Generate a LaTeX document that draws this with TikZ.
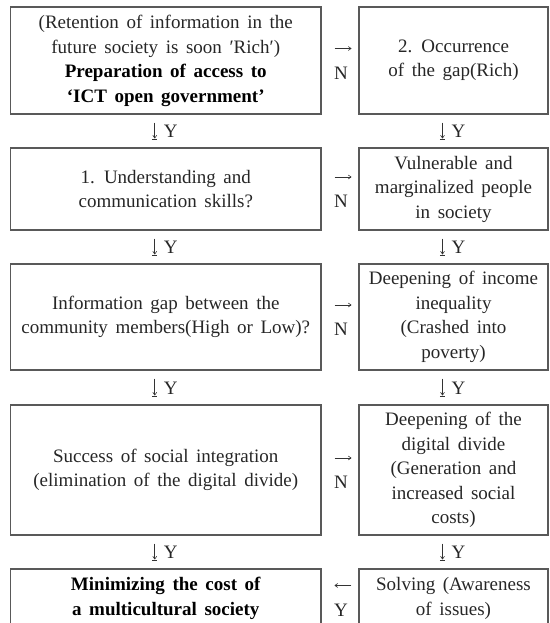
\documentclass[tikz,border=0pt]{standalone}
\usepackage{fontspec}
\setmainfont[WordSpace=1.6]{Liberation Serif}
\usetikzlibrary{arrows.meta,calc}
\begin{document}
\begin{tikzpicture}[x=1pt,y=-1pt,
  txt/.style={inner sep=0pt,align=center,text=black!85,font=\fontsize{19}{24.5}\selectfont},
  box/.style={txt,draw=black!65,line width=1.1pt,rectangle},
  lbox/.style={box,minimum width=310.5pt},
  rbox/.style={box,minimum width=189pt},
  arr/.style={-{To[length=3.5pt,width=4.5pt]},line width=0.6pt,draw=black!80},
  barline/.style={line width=0.6pt,draw=black!80},
]
\useasboundingbox (0,0) rectangle (549,623);
\clip (0,0) rectangle (549,623);

% row 1
\node[lbox,minimum height=107pt,text depth=3pt] (L1) at (165.75,60.5)
 {(Retention of information in the\\ future society is soon ′Rich′)\\
  \textcolor{black}{\bfseries Preparation of access to}\\
  \textcolor{black}{\bfseries ‘ICT open government’}};
\node[rbox,minimum height=107pt] (R1) at (453.5,60.5)
 {2. Occurrence\\ of the gap(Rich)};
% row 2
\node[lbox,minimum height=82pt] (L2) at (165.75,189)
 {1. Understanding and\\ communication skills?};
\node[rbox,minimum height=82pt] (R2) at (453.5,189)
 {Vulnerable and\\ marginalized people\\ in society};
% row 3
\node[lbox,minimum height=106pt] (L3) at (165.75,317)
 {Information gap between the\\ community members(High or Low)?};
\node[rbox,minimum height=106pt] (R3) at (453.5,317)
 {Deepening of income\\ inequality\\ (Crashed into\\ poverty)};
% row 4
\node[lbox,minimum height=130pt] (L4) at (165.75,470)
 {Success of social integration\\ (elimination of the digital divide)};
\node[rbox,minimum height=130pt] (R4) at (453.5,470)
 {Deepening of the\\ digital divide\\ (Generation and\\ increased social\\ costs)};
% row 5 (cut off at the bottom)
\node[lbox,minimum height=81pt] (L5box) at (165.75,609.5) {};
\node[rbox,minimum height=81pt] (R5box) at (453.5,609.5) {};
\node[txt,text=black] (L5) at (165.75,598.5)
 {\bfseries Minimizing the cost of\\ \bfseries a multicultural society};
\node[txt] (R5) at (453.5,598.5) {Solving (Awareness\\ of issues)};

% horizontal arrows with N
\foreach \a/\b in {L1/R1,L2/R2,L3/R3,L4/R4}{
  \draw[arr] ($(\a.east)+(13,-12)$) -- ($(\b.west)+(-7,-12)$);
  \node[txt] (N\a) at ($(\a.east)!0.5!(\b.west)+(1,12.5)$) {N};
}
% bottom left arrow with Y
\draw[arr] ($(R5box.north west)+(-7,17)$) -- ($(L5box.north east)+(13,17)$);
\node[txt] (YB) at ($(L5box.north east)!0.5!(R5box.north west)+(1,42)$) {Y};

% vertical arrows with Y
\foreach \a/\b in {L1/L2,L2/L3,L3/L4,L4/L5box,R1/R2,R2/R3,R3/R4,R4/R5box}{
  \coordinate (s\a) at ($(\a.south)+(-11,8)$);
  \coordinate (e\a) at ($(\b.north)+(-11,-8)$);
  \draw[arr] (s\a) -- ($(e\a)+(0,-1)$);
  \draw[barline] ($(e\a)+(-2.6,0)$) -- ($(e\a)+(2.6,0)$);
  \node[txt] (Y\a) at ($(\a.south)!0.5!(\b.north)+(5,0.5)$) {Y};
}
\end{tikzpicture}
\end{document}
